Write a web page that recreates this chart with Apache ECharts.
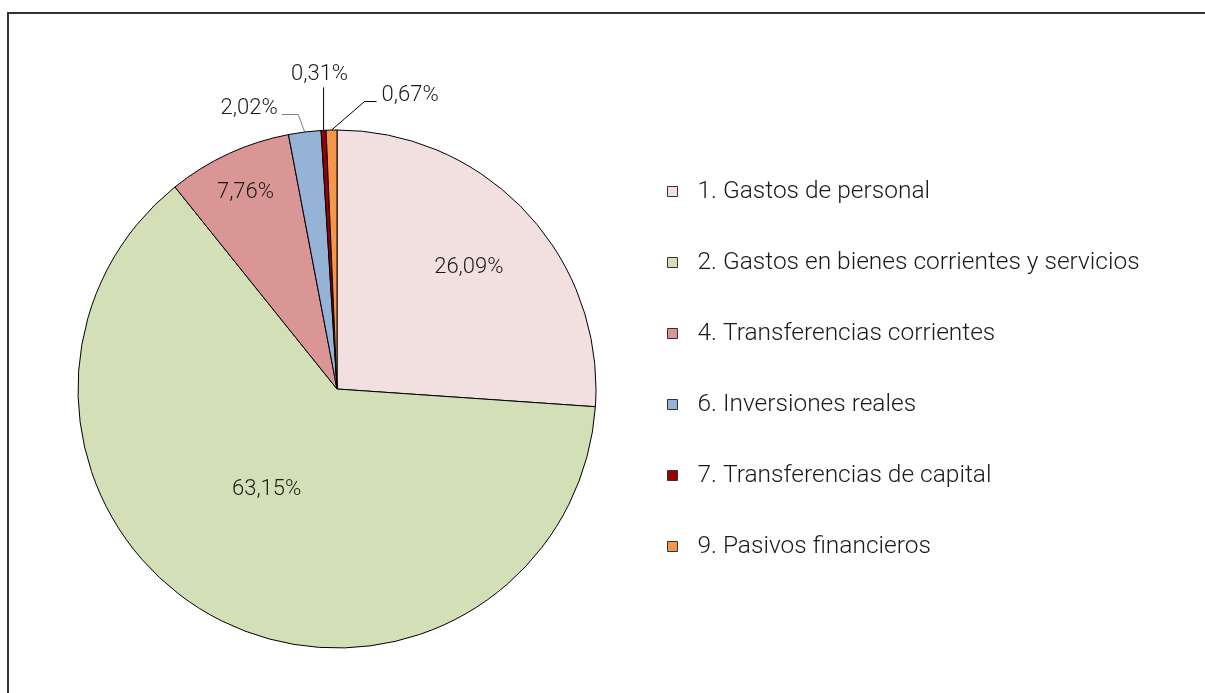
<!DOCTYPE html>
<html>
<head>
<meta charset="utf-8">
<script src="https://cdn.jsdelivr.net/npm/echarts@6/dist/echarts.min.js"></script>
<style>
  html, body { margin: 0; padding: 0; background: #ffffff; }
  #chart { width: 1205px; height: 693px; }
</style>
</head>
<body>
<div id="chart"></div>
<script>
const categories = [
  '1. Gastos de personal',
  '2. Gastos en bienes corrientes y servicios',
  '4. Transferencias corrientes',
  '6. Inversiones reales',
  '7. Transferencias de capital',
  '9. Pasivos financieros'
];
const values = [26.09, 63.15, 7.76, 2.02, 0.31, 0.67];
const colors = ['#F2DFDF', '#D3E0B7', '#D99694', '#95B3D7', '#9B0000', '#F79646'];

const FONT = 'Roboto, "Liberation Sans", Arial, sans-serif';
const insideIdx = [0, 1, 2];

// label nudges (layout only)
const insideNudge = { 0: [35, -31], 1: [-9, -17], 2: [-36, -76] };

const chart = echarts.init(document.getElementById('chart'), null, { renderer: 'canvas' });

const data = categories.map(function (name, i) {
  const inside = insideIdx.indexOf(i) >= 0;
  return {
    name: name,
    value: values[i],
    itemStyle: { color: colors[i] },
    label: { position: inside ? 'inside' : 'outside' },
    labelLine: {
      show: !inside,
      lineStyle: { color: i === 3 ? '#808080' : '#000000', width: 1 }
    }
  };
});

function fmt(v) { return v.toFixed(2).replace('.', ',') + '%'; }

chart.setOption({
  backgroundColor: '#ffffff',
  animation: false,
  graphic: [{
    type: 'rect',
    shape: { x: 8, y: 13, width: 1400, height: 900 },
    style: { fill: 'none', stroke: '#333333', lineWidth: 2 },
    silent: true, z: 0
  }],
  legend: {
    orient: 'vertical',
    left: 667,
    top: 179,
    padding: 0,
    itemWidth: 10,
    itemHeight: 10,
    itemGap: 46,
    icon: 'rect',
    itemStyle: { borderColor: '#333333', borderWidth: 1 },
    textStyle: { fontFamily: FONT, fontSize: 24.5, fontWeight: 300, color: '#1a1a1a', lineHeight: 25, padding: [0, 0, 0, 15] },
    data: categories
  },
  series: [{
    type: 'pie',
    center: [337, 389],
    radius: [0, 259],
    startAngle: 90,
    clockwise: true,
    avoidLabelOverlap: false,
    itemStyle: { borderColor: '#000000', borderWidth: 1 },
    emphasis: { disabled: true },
    label: {
      show: true,
      fontFamily: FONT,
      fontSize: 22,
      fontWeight: 300,
      color: '#1a1a1a',
      formatter: function (p) { return fmt(p.value); }
    },
    labelLine: { show: true, length: 18, length2: 16 },
    labelLayout: function (p) {
      const i = p.dataIndex;
      if (insideNudge[i]) {
        return { dx: insideNudge[i][0], dy: insideNudge[i][1] };
      }
      const pts = p.labelLinePoints;
      if (!pts) return {};
      const s = pts[0];
      if (i === 3) {
        const m = [s[0] - 6.5, s[1] - 17.5];
        const e = [m[0] - 16.5, m[1]];
        return { labelLinePoints: [s, m, e], x: e[0] - 4, y: e[1] - 6, align: 'right', verticalAlign: 'middle' };
      }
      if (i === 4) {
        const m = [s[0], s[1] - 43];
        return { labelLinePoints: [s, m, m], x: m[0] - 4, y: m[1] - 13, align: 'center', verticalAlign: 'middle' };
      }
      if (i === 5) {
        const m = [s[0] + 33, s[1] - 28.5];
        const e = [m[0] + 12, m[1]];
        return { labelLinePoints: [s, m, e], x: e[0] + 5, y: e[1] - 6, align: 'left', verticalAlign: 'middle' };
      }
      return {};
    },
    data: data
  }]
});
</script>
</body>
</html>
